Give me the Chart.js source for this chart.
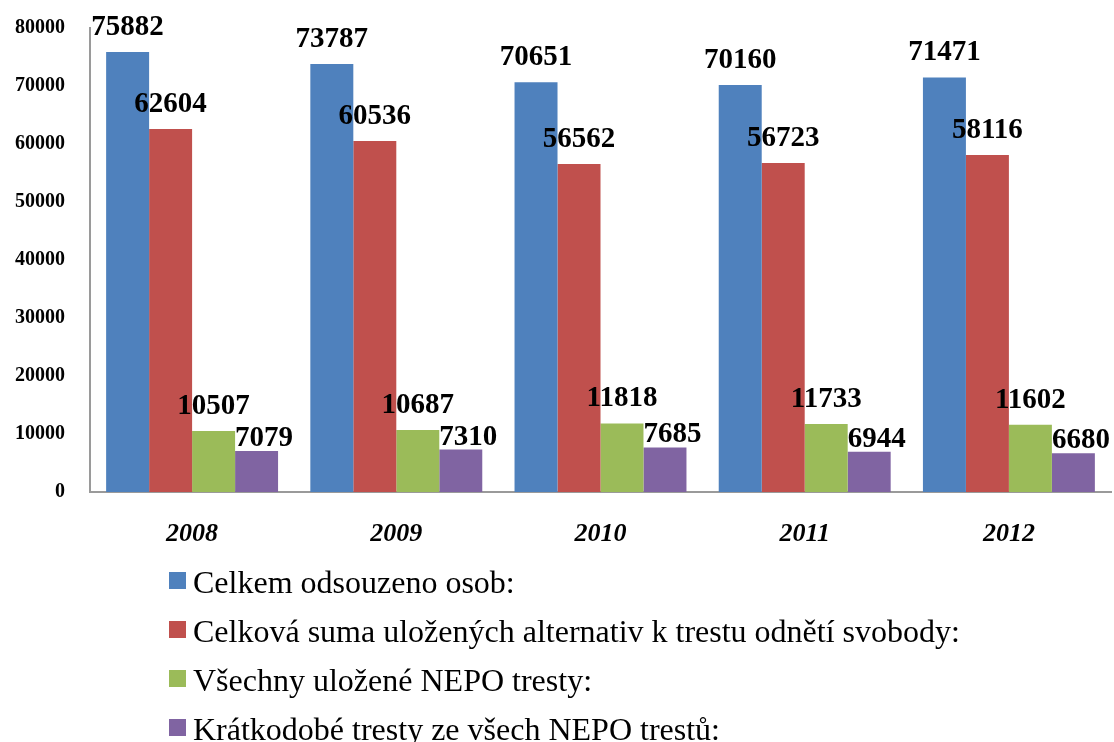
<!DOCTYPE html>
<html>
<head>
<meta charset="utf-8">
<script src="https://cdn.jsdelivr.net/npm/chart.js@4.4.1/dist/chart.umd.min.js"></script>
<style>
  html, body { margin: 0; padding: 0; background: #ffffff; }
  #wrap { width: 1114px; height: 742px; position: relative; }
</style>
</head>
<body>
<div id="wrap"><canvas id="c" width="1114" height="742"></canvas></div>
<script>
const categories = ['2008', '2009', '2010', '2011', '2012'];
const seriesNames = [
  'Celkem odsouzeno osob:',
  'Celková suma uložených alternativ k trestu odnětí svobody:',
  'Všechny uložené NEPO tresty:',
  'Krátkodobé tresty ze všech NEPO trestů:'
];
const celkemOdsouzeno = [75882, 73787, 70651, 70160, 71471];
const alternativy = [62604, 60536, 56562, 56723, 58116];
const nepoTresty = [10507, 10687, 11818, 11733, 11602];
const kratkodobe = [7079, 7310, 7685, 6944, 6680];
const yTicks = [0, 10000, 20000, 30000, 40000, 50000, 60000, 70000, 80000];
const colors = ['#4F81BD', '#C0504D', '#9BBB59', '#8064A2'];

const SERIF = '"Liberation Serif", "Times New Roman", serif';

const valueLabels = {
  id: 'valueLabels',
  afterDatasetsDraw(chart) {
    const ctx = chart.ctx;
    ctx.save();
    ctx.font = 'bold 29px ' + SERIF;
    ctx.fillStyle = '#000';
    ctx.textBaseline = 'alphabetic';
    chart.data.datasets.forEach((ds, di) => {
      const meta = chart.getDatasetMeta(di);
      meta.data.forEach((bar, i) => {
        const txt = String(ds.data[i]);
        if (di === 3) {
          ctx.textAlign = 'left';
          ctx.fillText(txt, bar.x - bar.width / 2, bar.y - 5);
        } else {
          ctx.textAlign = 'center';
          ctx.fillText(txt, bar.x, bar.y - 17);
        }
      });
    });
    ctx.restore();
  }
};

const customLegend = {
  id: 'customLegend',
  afterDraw(chart) {
    const ctx = chart.ctx;
    ctx.save();
    ctx.font = '32px ' + SERIF;
    ctx.textBaseline = 'alphabetic';
    ctx.textAlign = 'left';
    chart.data.datasets.forEach((ds, di) => {
      const top = 572 + di * 49;
      ctx.fillStyle = ds.backgroundColor;
      ctx.fillRect(169, top, 17, 17);
      ctx.fillStyle = '#000';
      ctx.fillText(ds.label, 193, top + 21);
    });
    ctx.restore();
  }
};

const seriesData = [celkemOdsouzeno, alternativy, nepoTresty, kratkodobe];

new Chart(document.getElementById('c'), {
  type: 'bar',
  data: {
    labels: categories,
    datasets: seriesData.map((d, i) => ({
      label: seriesNames[i],
      data: d,
      backgroundColor: colors[i],
      borderWidth: 0,
      categoryPercentage: 0.842,
      barPercentage: 1.0
    }))
  },
  options: {
    responsive: false,
    animation: false,
    devicePixelRatio: 1,
    layout: { padding: { top: 28, right: 3, bottom: 190, left: 0 } },
    plugins: {
      legend: { display: false },
      tooltip: { enabled: false }
    },
    scales: {
      x: {
        grid: { display: false, drawTicks: false },
        border: { display: true, color: '#9a9a9a', width: 2 },
        ticks: {
          color: '#000',
          padding: 27,
          font: { family: SERIF, size: 26, weight: 'bold', style: 'italic' }
        },
        afterFit(scale) { scale.height = 60; scale.paddingLeft = 0; scale.paddingRight = 0; }
      },
      y: {
        min: 0,
        max: 80000,
        afterBuildTicks(scale) { scale.ticks = yTicks.map(v => ({ value: v })); },
        grid: { display: false, drawTicks: false },
        border: { display: true, color: '#9a9a9a', width: 2 },
        ticks: {
          color: '#000',
          padding: 25,
          font: { family: SERIF, size: 20, weight: 'bold' },
          callback: (v) => String(v)
        },
        afterFit(scale) { scale.width = 90; scale.paddingTop = 0; scale.paddingBottom = 0; }
      }
    }
  },
  plugins: [valueLabels, customLegend]
});
</script>
</body>
</html>
